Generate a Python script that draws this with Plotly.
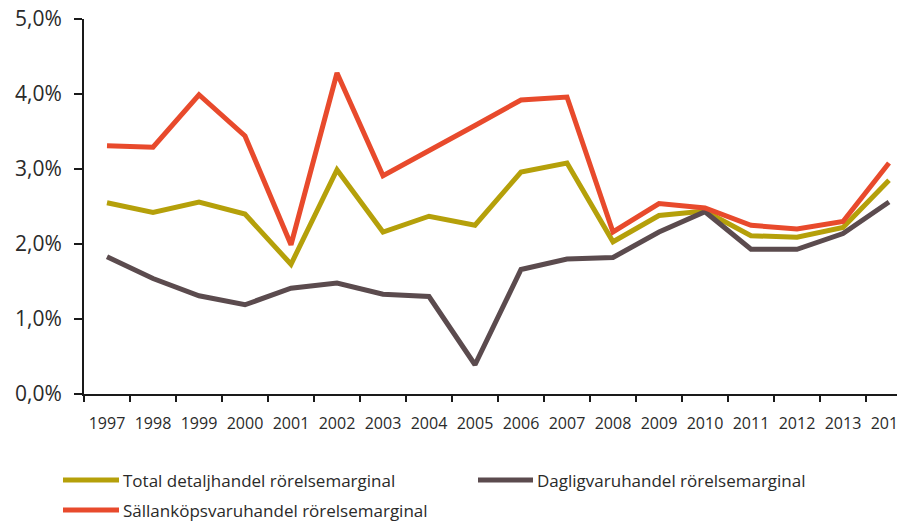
import plotly.graph_objects as go

years = [str(y) for y in range(1997, 2015)]
total = [2.55, 2.42, 2.56, 2.40, 1.73, 2.99, 2.16, 2.37, 2.25, 2.96, 3.08, 2.03, 2.38, 2.44, 2.11, 2.09, 2.22, 2.85]
daglig = [1.83, 1.54, 1.31, 1.19, 1.41, 1.48, 1.33, 1.30, 0.39, 1.66, 1.80, 1.82, 2.16, 2.43, 1.93, 1.93, 2.14, 2.56]
sallan = [3.31, 3.29, 3.99, 3.44, 1.99, 4.28, 2.91, 3.24, 3.58, 3.92, 3.96, 2.16, 2.54, 2.48, 2.25, 2.20, 2.30, 3.08]
names = ["Total detaljhandel rörelsemarginal", "Dagligvaruhandel rörelsemarginal", "Sällanköpsvaruhandel rörelsemarginal"]
colors = ["#B5A00A", "#5B4B4E", "#E84A2C"]
yticks = [0, 1, 2, 3, 4, 5]
ytick_text = ["0,0%", "1,0%", "2,0%", "3,0%", "4,0%", "5,0%"]

OFF = 8  # page body margin offset
W, H = 905 - OFF, 522 - OFF
ML = 84 - OFF
MT = 19 - OFF
BOT = 394 - OFF
PW, PH = W - ML, BOT - MT

fig = go.Figure()
for name, vals, col in zip(names, [total, daglig, sallan], colors):
    fig.add_trace(go.Scatter(x=years, y=vals, mode="lines", name=name,
                             line=dict(color=col, width=5), showlegend=False))

def px2x(px):
    return (px - OFF - ML) / PW

def py2y(py):
    return (BOT - (py - OFF)) / PH

legend_pos = [(63, 119, 480), (478, 533, 480), (63, 119, 510)]
shapes = []
annotations = []
for (x0, x1, yy), name, col in zip(legend_pos, names, colors):
    shapes.append(dict(type="line", xref="paper", yref="paper",
                       x0=px2x(x0), x1=px2x(x1), y0=py2y(yy), y1=py2y(yy),
                       line=dict(color=col, width=5)))
    annotations.append(dict(text=name, xref="paper", yref="paper", x=px2x(x1 + 2), y=py2y(yy),
                            xanchor="left", yanchor="middle", showarrow=False,
                            font=dict(family="Open Sans", size=17, color="#2a2a2a")))

fig.update_layout(
    width=W, height=H,
    margin=dict(l=ML, r=0, t=MT, b=H - BOT, autoexpand=False),
    paper_bgcolor="white", plot_bgcolor="white",
    font=dict(family="Open Sans", color="#2a2a2a"),
    xaxis=dict(type="category", range=[-0.5, -0.5 + PW / 46.0], automargin=False,
               showline=True, linecolor="#1a1a1a", linewidth=2, tickangle=0,
               ticks="outside", tickson="boundaries", ticklen=6, tickwidth=2, tickcolor="#1a1a1a",
               showgrid=False, tickfont=dict(family="Open Sans", size=16, color="#2a2a2a"),
               ticklabelstandoff=14, ticklabeloverflow="allow"),
    yaxis=dict(range=[0, 5], tickvals=yticks, ticktext=ytick_text, automargin=False,
               showline=True, linecolor="#1a1a1a", linewidth=2,
               ticks="outside", ticklen=8, tickwidth=2, tickcolor="#1a1a1a",
               showgrid=False, zeroline=False,
               tickfont=dict(family="Open Sans", size=21, color="#2a2a2a"),
               ticklabelstandoff=8, ticklabeloverflow="allow"),
    shapes=shapes, annotations=annotations, showlegend=False,
)

fig.write_html("out.html")
